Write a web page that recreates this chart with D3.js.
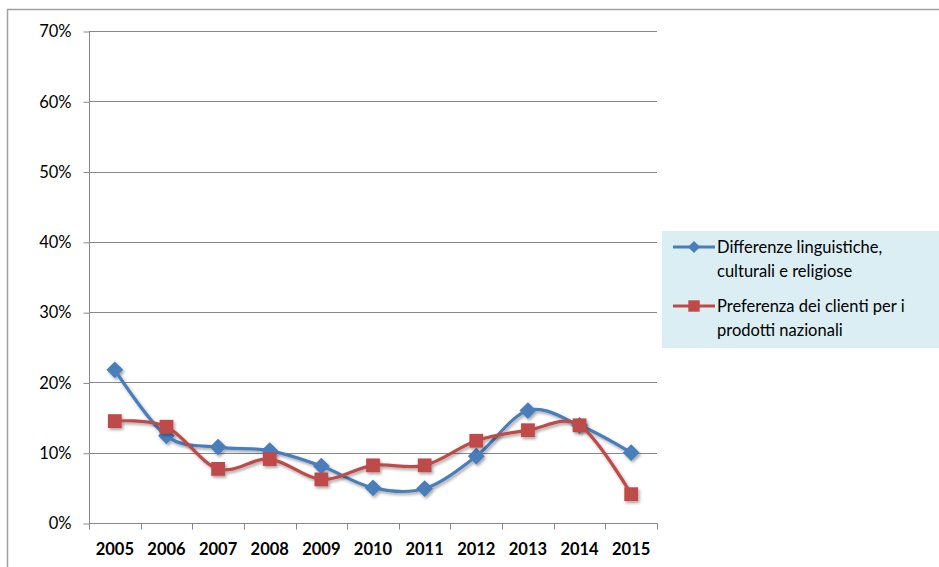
<!DOCTYPE html>
<html>
<head>
<meta charset="utf-8">
<script src="https://cdn.jsdelivr.net/npm/d3@7/dist/d3.min.js"></script>
<style>
  html, body { margin: 0; padding: 0; background: #fff; }
  svg { display: block; }
  text { font-family: Lato, "Open Sans", "Liberation Sans", sans-serif; }
</style>
</head>
<body>
<svg id="chart" width="939" height="567"></svg>
<script>
// Years on the category axis
const years = ["2005","2006","2007","2008","2009","2010","2011","2012","2013","2014","2015"];
// Share of respondents (%) per obstacle
const linguistiche = [21.8, 12.4, 10.8, 10.3, 8.1, 5.0, 4.9, 9.5, 16.0, 13.9, 10.0];
const preferenza   = [14.5, 13.7, 7.7, 9.1, 6.2, 8.2, 8.2, 11.7, 13.2, 13.9, 4.1];
const seriesNames = ["Differenze linguistiche, culturali e religiose", "Preferenza dei clienti per i prodotti nazionali"];
const legendLines = [["Differenze linguistiche,", "culturali e religiose"], ["Preferenza dei clienti per i", "prodotti nazionali"]];
const yTicks = [0, 10, 20, 30, 40, 50, 60, 70];

const svg = d3.select("#chart");
const W = 939, H = 567;
const plot = { left: 89, right: 657, top: 31, bottom: 523 };

// Drop shadow used by the series
const defs = svg.append("defs");
const f = defs.append("filter").attr("id", "shadow")
  .attr("x", "-20%").attr("y", "-20%").attr("width", "140%").attr("height", "140%");
f.append("feDropShadow").attr("dx", 1.5).attr("dy", 2).attr("stdDeviation", 1.5)
  .attr("flood-color", "#000").attr("flood-opacity", 0.35);

// Outer frame (top and left edges)
svg.append("path")
  .attr("d", `M7.5,${H} L7.5,9.5 L${W},9.5`)
  .attr("fill", "none").attr("stroke", "#a0a0a0").attr("stroke-width", 1.5);

const x = d3.scaleBand().domain(years).range([plot.left, plot.right]).padding(0);
const y = d3.scaleLinear().domain([0, 70]).range([plot.bottom, plot.top]);

// Horizontal gridlines
svg.append("g").selectAll("line").data(yTicks.filter(d => d > 0)).join("line")
  .attr("x1", plot.left).attr("x2", plot.right)
  .attr("y1", d => Math.round(y(d)) + 0.5).attr("y2", d => Math.round(y(d)) + 0.5)
  .attr("stroke", "#888").attr("stroke-width", 1);

// Y axis
const yAxis = svg.append("g").attr("transform", `translate(${plot.left + 0.5},0.5)`)
  .call(d3.axisLeft(y).tickValues(yTicks).tickSize(6).tickPadding(12).tickFormat(d => d + "%"));
yAxis.select(".domain").attr("stroke", "#888").attr("d", `M-0,${plot.top}V${plot.bottom}`);
yAxis.selectAll(".tick line").attr("stroke", "#888");
yAxis.selectAll(".tick text").attr("font-size", 16.5).attr("fill", "#000");

// X axis with ticks at category boundaries
const xAxisG = svg.append("g").attr("transform", `translate(0,${plot.bottom + 0.5})`);
xAxisG.append("line").attr("x1", plot.left).attr("x2", plot.right + 0.5)
  .attr("stroke", "#888");
const bounds = years.map(d => x(d)).concat([plot.right]);
xAxisG.selectAll(".tk").data(bounds).join("line").attr("class", "tk")
  .attr("x1", d => Math.round(d) + 0.5).attr("x2", d => Math.round(d) + 0.5)
  .attr("y1", 0).attr("y2", 6).attr("stroke", "#888");
xAxisG.selectAll(".lbl").data(years).join("text").attr("class", "lbl")
  .attr("x", d => x(d) + x.bandwidth() / 2).attr("y", 31.5)
  .attr("text-anchor", "middle").attr("font-size", 16.5).attr("font-weight", "bold")
  .attr("fill", "#000").text(d => d);

const colors = ["#4a7ebb", "#be4b48"];
const line = d3.line()
  .x((d, i) => x(years[i]) + x.bandwidth() / 2)
  .y(d => y(d))
  .curve(d3.curveCardinal.tension(0));

const diamond = d3.symbol().type(d3.symbolDiamond2).size(180);
const square = d3.symbol().type(d3.symbolSquare).size(190);

[linguistiche, preferenza].forEach((vals, s) => {
  const g = svg.append("g").attr("filter", "url(#shadow)");
  g.append("path").datum(vals).attr("d", line)
    .attr("fill", "none").attr("stroke", colors[s]).attr("stroke-width", 3.2)
    .attr("stroke-linejoin", "round");
  g.selectAll("path.mk").data(vals).join("path").attr("class", "mk")
    .attr("transform", (d, i) => `translate(${x(years[i]) + x.bandwidth() / 2},${y(d)})`)
    .attr("d", s === 0 ? diamond : square)
    .attr("fill", colors[s]);
});

// Legend
const lg = svg.append("g");
lg.append("rect").attr("x", 662).attr("y", 231).attr("width", W - 662).attr("height", 117)
  .attr("fill", "#dbeef4");
const legendY = [247, 306];
legendLines.forEach((lines, s) => {
  const cy = legendY[s];
  lg.append("line").attr("x1", 673).attr("x2", 715).attr("y1", cy).attr("y2", cy)
    .attr("stroke", colors[s]).attr("stroke-width", 3.2);
  lg.append("path").attr("transform", `translate(694,${cy})`)
    .attr("d", s === 0 ? d3.symbol().type(d3.symbolDiamond2).size(95) : d3.symbol().type(d3.symbolSquare).size(130))
    .attr("fill", colors[s]);
  lines.forEach((t, k) => {
    lg.append("text").attr("x", 717).attr("y", cy + 6 + k * 24)
      .attr("font-size", 16.5).attr("fill", "#000").text(t);
  });
});
</script>
</body>
</html>
